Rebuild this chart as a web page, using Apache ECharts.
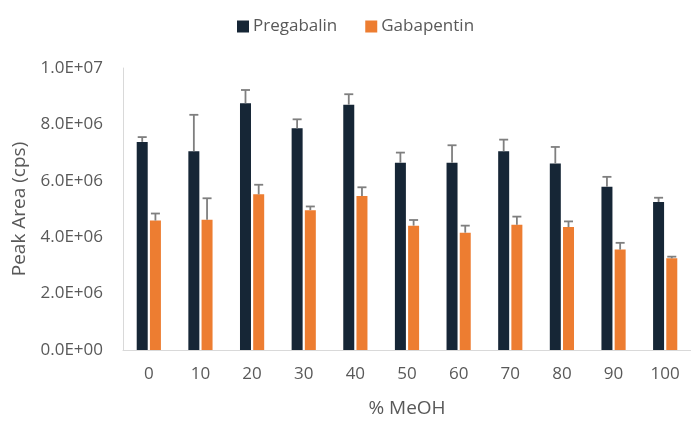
<!DOCTYPE html>
<html>
<head>
<meta charset="utf-8">
<script src="https://cdn.jsdelivr.net/npm/echarts@6/dist/echarts.min.js"></script>
<style>html,body{margin:0;padding:0;background:#fff}#c{width:691px;height:423px}</style>
</head>
<body>
<div id="c"></div>
<script>
const categories = ['0','10','20','30','40','50','60','70','80','90','100'];
const pregabalin = [7.38e6, 7.05e6, 8.75e6, 7.86e6, 8.70e6, 6.64e6, 6.64e6, 7.05e6, 6.61e6, 5.79e6, 5.25e6];
const pregabalinErr = [0.17e6, 1.29e6, 0.47e6, 0.32e6, 0.37e6, 0.36e6, 0.62e6, 0.41e6, 0.59e6, 0.35e6, 0.15e6];
const gabapentin = [4.59e6, 4.62e6, 5.52e6, 4.96e6, 5.46e6, 4.41e6, 4.16e6, 4.44e6, 4.36e6, 3.56e6, 3.25e6];
const gabapentinErr = [0.25e6, 0.76e6, 0.34e6, 0.13e6, 0.31e6, 0.20e6, 0.25e6, 0.29e6, 0.20e6, 0.24e6, 0.06e6];
const yTickLabels = ['0.0E+00','2.0E+06','4.0E+06','6.0E+06','8.0E+06','1.0E+07'];

const FONT = '"Open Sans", "Noto Sans", sans-serif';
const GRAY = '#595959';
const DARK = '#162636';
const ORANGE = '#ED7D31';
const BAR_W = 11;
const BAR_GAP = 0.2;
const OFF = (BAR_W + BAR_W * BAR_GAP) / 2;

function errSeries(name, means, errs, offset) {
  return {
    type: 'custom',
    name: name + ' err',
    z: 5,
    silent: true,
    encode: { x: 0, y: 1 },
    data: means.map((m, i) => [i, m, errs[i]]),
    renderItem: function (params, api) {
      const i = api.value(0), m = api.value(1), e = api.value(2);
      const p0 = api.coord([i, m]);
      const p1 = api.coord([i, m + e]);
      const x = p0[0] + offset;
      const st = { stroke: '#7f7f7f', lineWidth: 1.8 };
      return {
        type: 'group',
        children: [
          { type: 'line', shape: { x1: x, y1: p0[1], x2: x, y2: p1[1] }, style: st },
          { type: 'line', shape: { x1: x - 4.5, y1: p1[1], x2: x + 4.5, y2: p1[1] }, style: st }
        ]
      };
    }
  };
}

const chart = echarts.init(document.getElementById('c'), null, { renderer: 'canvas' });
chart.setOption({
  animation: false,
  backgroundColor: '#ffffff',
  textStyle: { fontFamily: FONT },
  legend: {
    left: 232, top: 13,
    itemWidth: 12, itemHeight: 12, itemGap: 28,
    icon: 'rect',
    data: ['Pregabalin', 'Gabapentin'],
    textStyle: { fontSize: 17, color: GRAY, fontFamily: FONT, padding: [0, 0, 0, -1] }
  },
  grid: { left: 123, top: 68, width: 575, height: 287.5, containLabel: false },
  xAxis: {
    type: 'category',
    data: categories,
    name: '% MeOH',
    nameLocation: 'middle',
    nameGap: 49,
    nameTextStyle: { fontSize: 19, color: GRAY, fontFamily: FONT },
    axisLine: { show: true, lineStyle: { color: '#d9d9d9', width: 1 } },
    axisTick: { show: false },
    axisLabel: { fontSize: 17, color: GRAY, margin: 16, fontFamily: FONT, interval: 0 }
  },
  yAxis: {
    type: 'value',
    min: 0, max: 1e7, interval: 2e6,
    name: 'Peak Area (cps)',
    nameLocation: 'middle',
    nameGap: 92,
    nameRotate: 90,
    nameTextStyle: { fontSize: 19, color: GRAY, fontFamily: FONT },
    axisLine: { show: true, lineStyle: { color: '#d9d9d9', width: 1 } },
    axisTick: { show: false },
    splitLine: { show: false },
    axisLabel: {
      fontSize: 17, color: GRAY, margin: 20, fontFamily: FONT,
      formatter: function (v) { return yTickLabels[Math.round(v / 2e6)]; }
    }
  },
  series: [
    { name: 'Pregabalin', type: 'bar', data: pregabalin, barWidth: BAR_W, barGap: (BAR_GAP * 100) + '%', itemStyle: { color: DARK } },
    { name: 'Gabapentin', type: 'bar', data: gabapentin, barWidth: BAR_W, itemStyle: { color: ORANGE } },
    errSeries('Pregabalin', pregabalin, pregabalinErr, -OFF),
    errSeries('Gabapentin', gabapentin, gabapentinErr, OFF)
  ]
});
</script>
</body>
</html>
